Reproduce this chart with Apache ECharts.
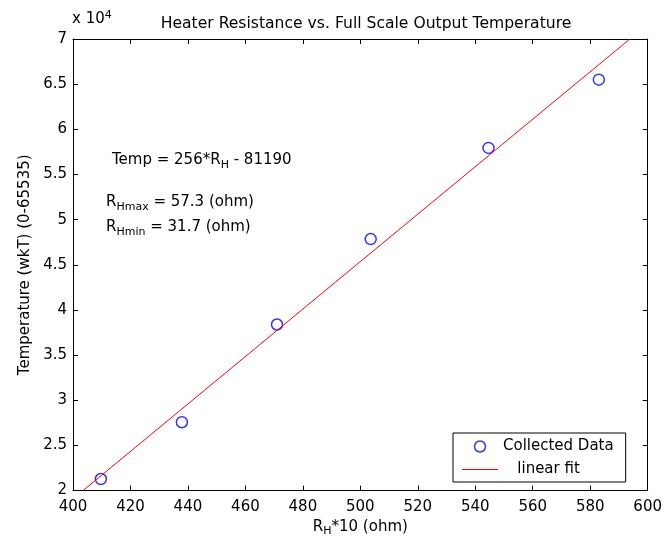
<!DOCTYPE html>
<html>
<head>
<meta charset="utf-8">
<script src="https://cdn.jsdelivr.net/npm/echarts@6/dist/echarts.min.js"></script>
<style>
  html, body { margin: 0; padding: 0; background: #fff; }
  #chart { width: 665px; height: 542px; }
</style>
</head>
<body>
<div id="chart"></div>
<script>
// collected points: R_H*10 (ohm) vs temperature (wkT)
const resistance = [409.7, 437.9, 471.0, 503.6, 544.6, 583.0]
const temperature = [21280, 27570, 38390, 47850, 57940, 65500]

// linear fit end points
const fitX = [403.5, 593.8]
const fitY = [20000, 70000]

const FONT = 'DejaVu Sans, sans-serif'
const FS = 15

const chart = echarts.init(document.getElementById('chart'))

const axisLine = { show: true, lineStyle: { color: '#000', width: 1 } }
const tickIn = { show: true, inside: true, length: 5, lineStyle: { color: '#000' } }

const option = {
  backgroundColor: '#fff',
  animation: false,
  title: {
    text: 'Heater Resistance vs. Full Scale Output Temperature',
    left: 361,
    top: 11,
    textAlign: 'center',
    textStyle: { fontFamily: FONT, fontSize: 15.6, fontWeight: 'normal', color: '#000' }
  },
  grid: { left: 73, right: 16, top: 39, bottom: 47 },
  legend: {
    orient: 'vertical',
    left: 453,
    top: 433,
    backgroundColor: '#fff',
    borderColor: '#000',
    borderWidth: 1,
    borderRadius: 0,
    padding: [6, 12, 5, 9],
    itemGap: 8,
    itemWidth: 36,
    itemHeight: 11,
    textStyle: { fontFamily: FONT, fontSize: FS, color: '#000' },
    formatter: name => name === 'linear fit' ? '   linear fit' : name,
    data: [
      { name: 'Collected Data', icon: 'circle',
        itemStyle: { color: '#fff', borderColor: '#0000ff', borderWidth: 1.5 } },
      { name: 'linear fit', icon: 'path://M0,0L36,0L36,1L0,1Z',
        itemStyle: { color: '#ff0000', borderWidth: 0 } }
    ]
  },
  xAxis: [{
    type: 'value',
    min: 400,
    max: 600,
    interval: 20,
    axisLine: axisLine,
    axisTick: tickIn,
    splitLine: { show: false },
    axisLabel: { margin: 9, fontFamily: FONT, fontSize: FS, color: '#000' },
    name: '{a|R}{b|H}{a|*10 (ohm)}',
    nameLocation: 'middle',
    nameGap: 26,
    nameTextStyle: {
      rich: {
        a: { fontFamily: FONT, fontSize: FS, color: '#000' },
        b: { fontFamily: FONT, fontSize: 11, color: '#000', padding: [9, 0, 0, 0] }
      }
    }
  }, {
    type: 'value',
    position: 'top',
    min: 400,
    max: 600,
    interval: 20,
    axisLine: axisLine,
    axisTick: tickIn,
    splitLine: { show: false },
    axisLabel: { show: false }
  }],
  yAxis: [{
    type: 'value',
    min: 20000,
    max: 70000,
    interval: 5000,
    axisLine: axisLine,
    axisTick: tickIn,
    splitLine: { show: false },
    axisLabel: {
      margin: 6,
      fontFamily: FONT,
      fontSize: FS,
      color: '#000',
      formatter: v => String(v / 10000)
    },
    name: 'Temperature (wkT) (0-65535)',
    nameLocation: 'middle',
    nameGap: 40,
    nameTextStyle: { fontFamily: FONT, fontSize: FS, color: '#000' }
  }, {
    type: 'value',
    position: 'right',
    min: 20000,
    max: 70000,
    interval: 5000,
    axisLine: axisLine,
    axisTick: tickIn,
    splitLine: { show: false },
    axisLabel: { show: false }
  }],
  graphic: [
    {
      type: 'text', left: 72, top: 10,
      style: {
        text: '{a|x 10}{s|4}',
        rich: {
          a: { fontFamily: FONT, fontSize: FS, fill: '#000', padding: [8, 0, 0, 0] },
          s: { fontFamily: FONT, fontSize: 11, fill: '#000' }
        }
      }
    },
    {
      type: 'text', left: 112, top: 153,
      style: {
        text: '{a|Temp = 256*R}{s|H}{a| - 81190}',
        rich: {
          a: { fontFamily: FONT, fontSize: FS, fill: '#000' },
          s: { fontFamily: FONT, fontSize: 11, fill: '#000', padding: [10, 0, 0, 0] }
        }
      }
    },
    {
      type: 'text', left: 106, top: 195,
      style: {
        text: '{a|R}{s|Hmax}{a| = 57.3 (ohm)}',
        rich: {
          a: { fontFamily: FONT, fontSize: FS, fill: '#000' },
          s: { fontFamily: FONT, fontSize: 11, fill: '#000', padding: [10, 0, 0, 0] }
        }
      }
    },
    {
      type: 'text', left: 106, top: 220,
      style: {
        text: '{a|R}{s|Hmin}{a| = 31.7 (ohm)}',
        rich: {
          a: { fontFamily: FONT, fontSize: FS, fill: '#000' },
          s: { fontFamily: FONT, fontSize: 11, fill: '#000', padding: [10, 0, 0, 0] }
        }
      }
    }
  ],
  series: [
    {
      name: 'linear fit',
      type: 'line',
      data: fitX.map((x, i) => [x, fitY[i]]),
      symbol: 'none',
      lineStyle: { color: '#ff0000', width: 1 },
      itemStyle: { color: '#ff0000' }
    },
    {
      name: 'Collected Data',
      type: 'scatter',
      data: resistance.map((x, i) => [x, temperature[i]]),
      symbol: 'circle',
      symbolSize: 11,
      itemStyle: { color: 'rgba(0,0,0,0)', borderColor: '#0000ff', borderWidth: 1.5 }
    }
  ]
}

chart.setOption(option)
</script>
</body>
</html>
